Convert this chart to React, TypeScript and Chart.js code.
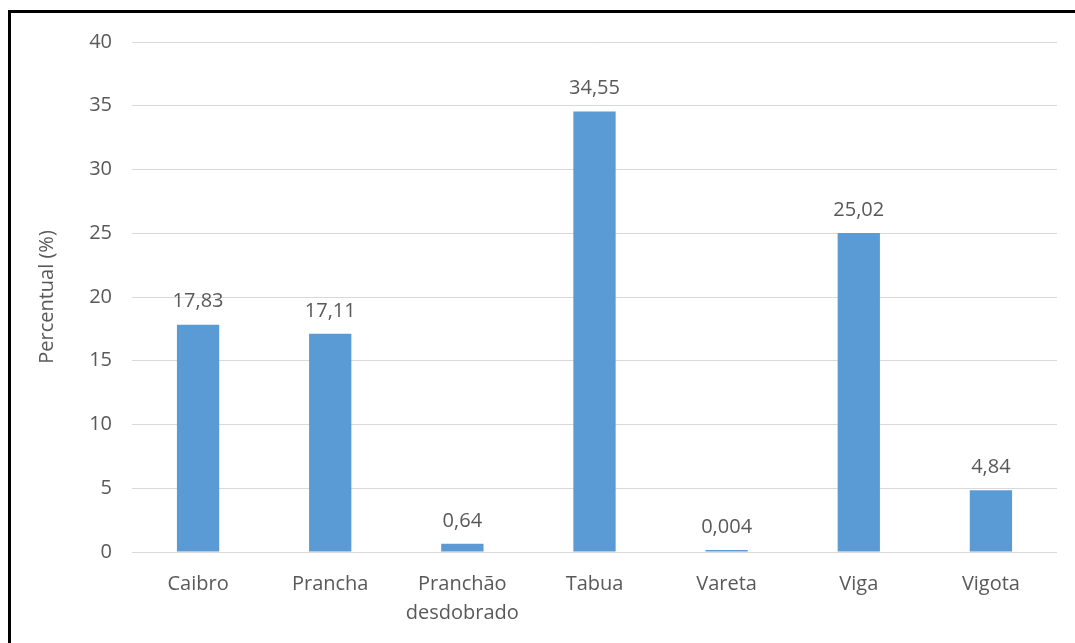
import React, { useEffect, useRef } from "react";
import { Chart, registerables } from "chart.js";

Chart.register(...registerables);

const categories: (string | string[])[] = [
  "Caibro",
  "Prancha",
  ["Pranchão", "desdobrado"],
  "Tabua",
  "Vareta",
  "Viga",
  "Vigota",
];
const values: number[] = [17.83, 17.11, 0.64, 34.55, 0.004, 25.02, 4.84];
const valueLabels: string[] = ["17,83", "17,11", "0,64", "34,55", "0,004", "25,02", "4,84"];
const yTicks: number[] = [0, 5, 10, 15, 20, 25, 30, 35, 40];

const FONT = "'Open Sans', sans-serif";
const TEXT = "#595959";

const labelPlugin = {
  id: "valueLabels",
  afterDatasetsDraw(chart: any) {
    const ctx = chart.ctx;
    const meta = chart.getDatasetMeta(0);
    ctx.save();
    ctx.font = `20px ${FONT}`;
    ctx.fillStyle = TEXT;
    ctx.textAlign = "center";
    ctx.textBaseline = "middle";
    meta.data.forEach((bar: any, i: number) => {
      ctx.fillText(valueLabels[i], bar.x, bar.y - 23);
    });
    ctx.restore();
  },
};

export default function App() {
  const ref = useRef<HTMLCanvasElement | null>(null);
  useEffect(() => {
    if (!ref.current) return;
    const chart = new Chart(ref.current, {
      type: "bar",
      data: {
        labels: categories as any,
        datasets: [
          {
            data: values,
            backgroundColor: "#5b9bd5",
            borderWidth: 0,
            categoryPercentage: 1,
            barPercentage: 0.32,
            minBarLength: 2,
          },
        ],
      },
      plugins: [labelPlugin],
      options: {
        responsive: false,
        animation: false,
        layout: { padding: { left: 0, right: 18, top: 42, bottom: 0 } },
        plugins: {
          legend: { display: false },
          tooltip: { enabled: false },
        },
        scales: {
          x: {
            grid: { display: false, drawTicks: false },
            border: { display: false },
            ticks: {
              color: TEXT,
              font: { family: FONT, size: 20, lineHeight: 1.45 },
              padding: 18,
              maxRotation: 0,
              autoSkip: false,
            },
            afterFit(scale: any) {
              scale.height = 91;
            },
          },
          y: {
            min: 0,
            max: 40,
            afterBuildTicks(scale: any) {
              scale.ticks = yTicks.map((v) => ({ value: v }));
            },
            grid: { color: "#d9d9d9", lineWidth: 1, drawTicks: false },
            border: { display: false },
            ticks: {
              color: TEXT,
              font: { family: FONT, size: 20 },
              padding: 20,
            },
            title: {
              display: true,
              text: "Percentual (%)",
              color: TEXT,
              font: { family: FONT, size: 20 },
              padding: { top: 35, bottom: 0 },
            },
            afterFit(scale: any) {
              scale.width = 132;
            },
          },
        },
      },
    });
    return () => chart.destroy();
  }, []);

  return (
    <>
      <canvas
        ref={ref}
        width={1075}
        height={643}
        style={{ position: "fixed", left: 0, top: 0, width: 1075, height: 643 }}
      />
      <div
        style={{
          position: "fixed",
          left: 8,
          top: 10,
          width: 1100,
          height: 700,
          border: "3px solid black",
          boxSizing: "border-box",
          pointerEvents: "none",
        }}
      />
    </>
  );
}
